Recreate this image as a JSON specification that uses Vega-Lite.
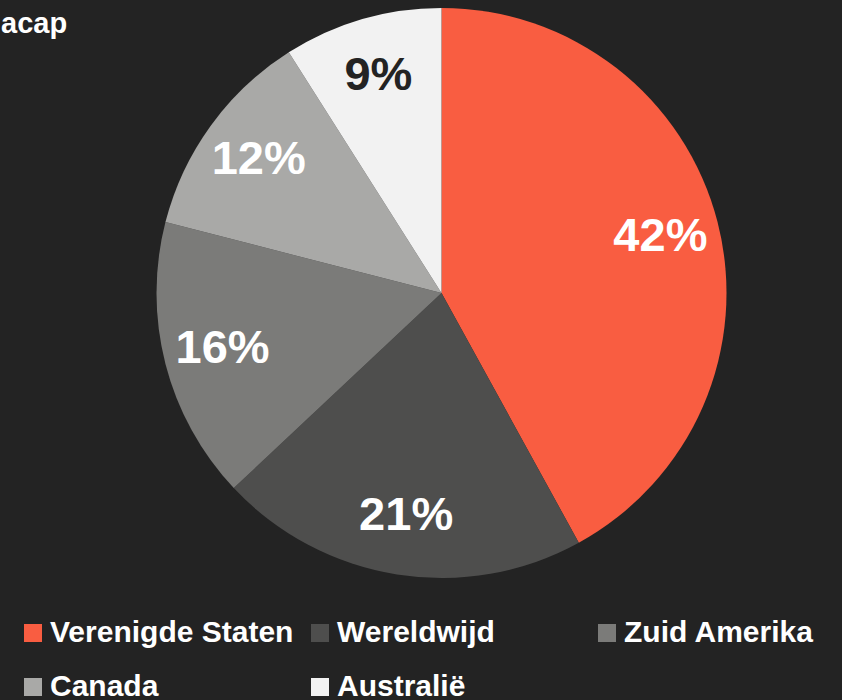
{
  "$schema": "https://vega.github.io/schema/vega-lite/v6.json",
  "autosize": {"type": "none"},
  "width": 801,
  "height": 516,
  "padding": {"left": 41, "top": 35, "right": 0, "bottom": 149},
  "background": "#232323",
  "title": {
    "text": "acap",
    "anchor": "start",
    "frame": "group",
    "dx": -40,
    "dy": 35,
    "color": "#ffffff",
    "font": "Liberation Sans",
    "fontSize": 29,
    "fontWeight": "bold"
  },
  "config": {"view": {"stroke": null}},
  "data": {
    "values": [
      {"rank": 1, "region": "Verenigde Staten", "share": 0.42},
      {"rank": 2, "region": "Wereldwijd", "share": 0.21},
      {"rank": 3, "region": "Zuid Amerika", "share": 0.16},
      {"rank": 4, "region": "Canada", "share": 0.12},
      {"rank": 5, "region": "Australië", "share": 0.09}
    ]
  },
  "encoding": {
    "theta": {"field": "share", "type": "quantitative", "stack": true},
    "order": {"field": "rank", "type": "quantitative"}
  },
  "layer": [
    {
      "mark": {"type": "arc", "outerRadius": 285, "strokeWidth": 0},
      "encoding": {
        "color": {
          "field": "region",
          "type": "nominal",
          "sort": ["Verenigde Staten", "Wereldwijd", "Zuid Amerika", "Canada", "Australië"],
          "scale": {
            "domain": ["Verenigde Staten", "Wereldwijd", "Zuid Amerika", "Canada", "Australië"],
            "range": ["#F95D41", "#4E4E4D", "#7B7B79", "#A9A9A7", "#F2F2F2"]
          },
          "legend": {
            "title": null,
            "orient": "none",
            "legendX": -23,
            "legendY": 583,
            "direction": "horizontal",
            "columns": 3,
            "gridAlign": "all",
            "columnPadding": 11,
            "rowPadding": 24,
            "symbolType": "square",
            "symbolSize": 324,
            "symbolStrokeWidth": 0,
            "symbolOpacity": 1,
            "labelOffset": 2,
            "labelLimit": 400,
            "labelColor": "#ffffff",
            "labelFont": "Liberation Sans",
            "labelFontSize": 30,
            "labelFontWeight": "bold"
          }
        }
      }
    },
    {
      "mark": {"type": "text", "radius": 226, "font": "Liberation Sans", "fontSize": 47, "fontWeight": "bold", "align": "center", "baseline": "middle"},
      "encoding": {
        "text": {"field": "share", "type": "quantitative", "format": ".0%"},
        "color": {
          "condition": {"test": "datum.region === 'Australië'", "value": "#232323"},
          "value": "#ffffff"
        }
      }
    }
  ]
}
